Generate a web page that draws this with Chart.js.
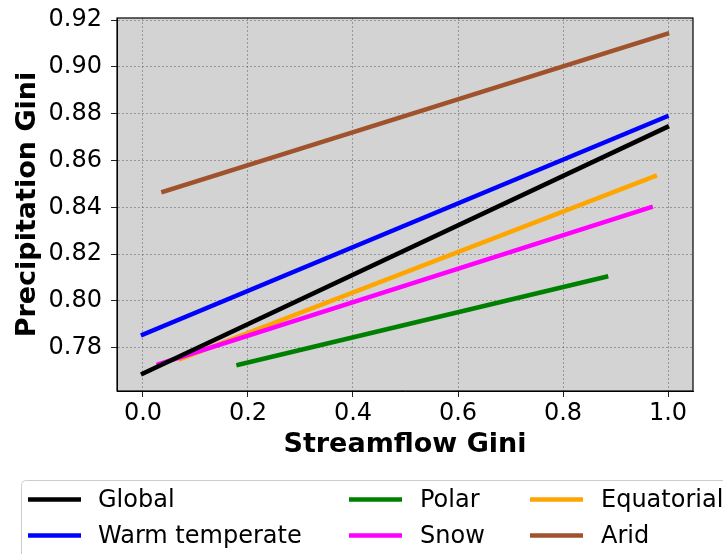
<!DOCTYPE html>
<html>
<head>
<meta charset="utf-8">
<script src="https://cdn.jsdelivr.net/npm/chart.js@4/dist/chart.umd.min.js"></script>
<style>
  html, body { margin: 0; padding: 0; background: #ffffff; }
  #wrap { width: 723px; height: 554px; }
</style>
</head>
<body>
<div id="wrap"><canvas id="c" width="723" height="554"></canvas></div>
<script>
// ---- data ----
const seriesNames  = ['Global', 'Warm temperate', 'Polar', 'Snow', 'Equatorial', 'Arid'];
const seriesColors = ['#000000', '#0000ff', '#008000', '#ff00ff', '#ffa500', '#a0522d'];

const globalX = [0.000, 0.998];  const globalY = [0.7690, 0.8743];
const warmX   = [0.000, 0.997];  const warmY   = [0.7856, 0.8788];
const polarX  = [0.182, 0.882];  const polarY  = [0.7727, 0.8103];
const snowX   = [0.030, 0.967];  const snowY   = [0.7730, 0.8400];
const equatX  = [0.072, 0.975];  const equatY  = [0.7752, 0.8533];
const aridX   = [0.039, 0.998];  const aridY   = [0.8467, 0.9142];

const xTicks = [0.0, 0.2, 0.4, 0.6, 0.8, 1.0];
const yTicks = [0.78, 0.80, 0.82, 0.84, 0.86, 0.88, 0.90, 0.92];
const xRange = [-0.0495, 1.0476];
const yRange = [0.7615, 0.92094];

const xTitle = 'Streamflow Gini';
const yTitle = 'Precipitation Gini';

// ---- build datasets ----
const seriesX = [globalX, warmX, polarX, snowX, equatX, aridX];
const seriesY = [globalY, warmY, polarY, snowY, equatY, aridY];

const datasets = seriesNames.map((name, i) => ({
  label: name,
  data: seriesX[i].map((x, j) => ({ x: x, y: seriesY[i][j] })),
  borderColor: seriesColors[i],
  backgroundColor: seriesColors[i],
  borderWidth: 4.5,
  borderCapStyle: 'square',
  showLine: true,
  pointRadius: 0,
  pointHoverRadius: 0,
  fill: false
}));

const FONT = 'DejaVu Sans';

const frame = {
  id: 'frame',
  beforeDraw(chart) {
    const { ctx, chartArea: a } = chart;
    ctx.save();
    ctx.fillStyle = '#d3d3d3';
    ctx.fillRect(a.left, a.top, a.right - a.left, a.bottom - a.top);
    ctx.restore();
  },
  afterDatasetsDraw(chart) {
    const { ctx, chartArea: a } = chart;
    ctx.save();
    ctx.strokeStyle = '#000000';
    ctx.lineWidth = 1.2;
    ctx.strokeRect(a.left, a.top, a.right - a.left, a.bottom - a.top);
    ctx.restore();
  },
  afterDraw(chart) {
    const ctx = chart.ctx;
    ctx.save();
    // legend box
    const bx = 21.5, by = 480.5, bw = 720, bh = 90, r = 5;
    ctx.beginPath();
    ctx.moveTo(bx + r, by);
    ctx.lineTo(bx + bw - r, by);
    ctx.quadraticCurveTo(bx + bw, by, bx + bw, by + r);
    ctx.lineTo(bx + bw, by + bh - r);
    ctx.quadraticCurveTo(bx + bw, by + bh, bx + bw - r, by + bh);
    ctx.lineTo(bx + r, by + bh);
    ctx.quadraticCurveTo(bx, by + bh, bx, by + bh - r);
    ctx.lineTo(bx, by + r);
    ctx.quadraticCurveTo(bx, by, bx + r, by);
    ctx.closePath();
    ctx.fillStyle = 'rgba(255,255,255,0.8)';
    ctx.fill();
    ctx.strokeStyle = '#cccccc';
    ctx.lineWidth = 1;
    ctx.stroke();

    const colHandle = [28, 349, 530];
    const colText = [98, 420, 601];
    const rowY = [499.5, 535.5];
    ctx.font = '24px "' + FONT + '"';
    ctx.textBaseline = 'middle';
    ctx.textAlign = 'left';
    chart.data.datasets.forEach((ds, i) => {
      const col = Math.floor(i / 2), row = i % 2;
      ctx.strokeStyle = ds.borderColor;
      ctx.lineWidth = 4.5;
      ctx.lineCap = 'butt';
      ctx.beginPath();
      ctx.moveTo(colHandle[col], rowY[row]);
      ctx.lineTo(colHandle[col] + 53, rowY[row]);
      ctx.stroke();
      ctx.fillStyle = '#000000';
      ctx.fillText(ds.label, colText[col], rowY[row] + 1);
    });
    ctx.restore();
  }
};

new Chart(document.getElementById('c'), {
  type: 'scatter',
  data: { datasets: datasets },
  options: {
    responsive: false,
    animation: false,
    events: [],
    layout: { padding: { left: 0, top: 18, right: 30, bottom: 93 } },
    plugins: { legend: { display: false }, tooltip: { enabled: false } },
    scales: {
      x: {
        type: 'linear',
        min: xRange[0], max: xRange[1],
        afterBuildTicks(scale) { scale.ticks = xTicks.map(v => ({ value: v })); },
        afterFit(scale) { scale.height = 70; scale.paddingLeft = 0; scale.paddingRight = 0; },
        ticks: {
          color: '#000000',
          font: { family: FONT, size: 24 },
          padding: 2,
          maxRotation: 0,
          autoSkip: false,
          callback: v => v.toFixed(1)
        },
        grid: {
          color: 'rgba(100,100,100,0.55)',
          lineWidth: 1,
          tickColor: '#222222',
          tickLength: 6,
          tickBorderDash: [],
          drawOnChartArea: true
        },
        border: { display: true, color: '#000000', dash: [2, 2] },
        title: {
          display: true, text: xTitle, color: '#000000',
          font: { family: FONT, size: 27, weight: 'bold' },
          padding: { top: 0, bottom: 0 }
        }
      },
      y: {
        type: 'linear',
        min: yRange[0], max: yRange[1],
        afterBuildTicks(scale) { scale.ticks = yTicks.map(v => ({ value: v })); },
        afterFit(scale) { scale.width = 117; scale.paddingTop = 0; scale.paddingBottom = 0; },
        ticks: {
          color: '#000000',
          font: { family: FONT, size: 24 },
          padding: 9,
          autoSkip: false,
          callback: v => v.toFixed(2)
        },
        grid: {
          color: 'rgba(100,100,100,0.55)',
          lineWidth: 1,
          tickColor: '#222222',
          tickLength: 6,
          tickBorderDash: []
        },
        border: { display: true, color: '#000000', dash: [2, 2] },
        title: {
          display: true, text: yTitle, color: '#000000',
          font: { family: FONT, size: 27, weight: 'bold' },
          padding: { top: 12, bottom: 0 }
        }
      }
    }
  },
  plugins: [frame]
});
</script>
</body>
</html>
